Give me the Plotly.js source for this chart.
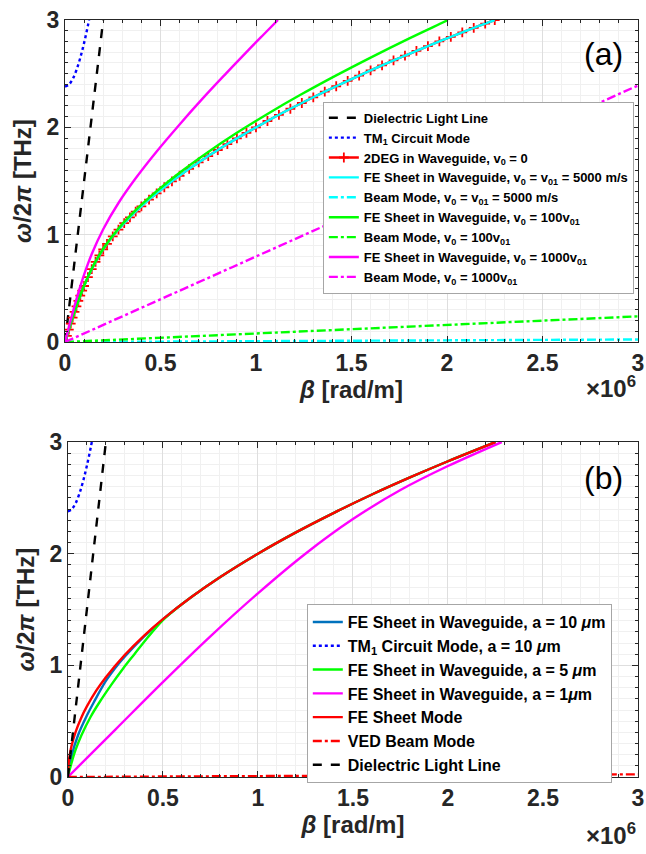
<!DOCTYPE html>
<html>
<head>
<meta charset="utf-8">
<script src="https://cdn.plot.ly/plotly-3.0.1.min.js"></script>
<style>html,body{margin:0;padding:0;background:#fff;}#chart{width:646px;height:854px;}</style>
</head>
<body>
<div id="chart"></div>
<script>
// beta in units of 1e6 rad/m, frequency in THz
const lightBeta = [0, 0.2];
const lightFreq = [0, 3.0];

const tm1Beta = [0, 0.02, 0.04, 0.06, 0.08, 0.10, 0.12, 0.126];
const tm1Freq = [2.38, 2.398, 2.449, 2.534, 2.648, 2.787, 2.948, 3.0];

// (a) 2DEG in waveguide, v0 = 0 (and FE sheet, v0 = v01)
const degBeta = [0, 0.01, 0.02, 0.03, 0.04, 0.05, 0.06, 0.07, 0.08, 0.09, 0.10, 0.12, 0.14, 0.16, 0.18, 0.20, 0.22, 0.25, 0.28, 0.31, 0.34, 0.37, 0.40, 0.44, 0.48, 0.52, 0.56, 0.60, 0.65, 0.70, 0.75, 0.80, 0.85, 0.90, 0.95, 1.00, 1.06, 1.12, 1.18, 1.24, 1.30, 1.36, 1.42, 1.48, 1.54, 1.60, 1.66, 1.72, 1.78, 1.84, 1.90, 1.96, 2.02, 2.08, 2.14, 2.20, 2.25];
const degFreq = [0, 0.058, 0.115, 0.171, 0.227, 0.281, 0.333, 0.383, 0.432, 0.478, 0.522, 0.605, 0.679, 0.746, 0.807, 0.863, 0.914, 0.985, 1.048, 1.107, 1.162, 1.214, 1.263, 1.326, 1.385, 1.442, 1.497, 1.549, 1.613, 1.673, 1.732, 1.789, 1.844, 1.897, 1.949, 2.000, 2.059, 2.117, 2.173, 2.227, 2.280, 2.332, 2.383, 2.433, 2.482, 2.530, 2.577, 2.623, 2.668, 2.713, 2.757, 2.800, 2.843, 2.884, 2.926, 2.967, 3.0];
const feV01Beta = degBeta;
const feV01Freq = degFreq;

const fe100Beta = [0, 0.02, 0.04, 0.06, 0.08, 0.10, 0.14, 0.20, 0.28, 0.37, 0.48, 0.60, 0.75, 0.90, 1.06, 1.24, 1.42, 1.60, 1.80, 2.00, 2.004];
const fe100Freq = [0, 0.115, 0.228, 0.334, 0.434, 0.525, 0.683, 0.869, 1.058, 1.228, 1.405, 1.577, 1.771, 1.949, 2.125, 2.310, 2.484, 2.650, 2.827, 2.996, 3.0];

const fe1000Beta = [0, 0.02, 0.04, 0.06, 0.08, 0.10, 0.14, 0.20, 0.28, 0.37, 0.48, 0.60, 0.72, 0.84, 0.96, 1.04, 1.115];
const fe1000Freq = [0, 0.137, 0.271, 0.399, 0.518, 0.628, 0.820, 1.051, 1.295, 1.525, 1.775, 2.027, 2.267, 2.496, 2.720, 2.865, 3.0];

const beamBeta = [0, 3];
const beamV01Freq = [0, 0.024];
const beam100Freq = [0, 0.239];
const beam1000Freq = [0, 2.39];

// (b)
const sheetBeta = [0, 0.005, 0.01, 0.02, 0.04, 0.07, 0.10, 0.15, 0.20, 0.30, 0.40, 0.50, 0.65, 0.80, 1.00, 1.20, 1.40, 1.60, 1.80, 2.00, 2.25];
const sheetFreq = [0, 0.141, 0.200, 0.283, 0.400, 0.529, 0.632, 0.775, 0.894, 1.095, 1.265, 1.414, 1.612, 1.789, 2.000, 2.191, 2.366, 2.530, 2.683, 2.828, 3.0];

const a10Beta = [0, 0.02, 0.054, 0.10, 0.138, 0.20, 0.246, 0.30, 0.40, 0.50, 0.65, 0.80, 1.00, 1.20, 1.40, 1.60, 1.80, 2.00, 2.25];
const a10Freq = [0, 0.19, 0.376, 0.55, 0.674, 0.86, 0.97, 1.08, 1.258, 1.412, 1.612, 1.789, 2.000, 2.191, 2.366, 2.530, 2.683, 2.828, 3.0];

const a5Beta = [0, 0.02, 0.04, 0.072, 0.12, 0.168, 0.23, 0.29, 0.35, 0.42, 0.50, 0.55, 0.65, 0.80, 1.00, 1.20, 1.40, 1.60, 1.80, 2.00, 2.25];
const a5Freq = [0, 0.13, 0.24, 0.376, 0.54, 0.674, 0.83, 0.97, 1.10, 1.25, 1.405, 1.48, 1.612, 1.789, 2.000, 2.191, 2.366, 2.530, 2.683, 2.828, 3.0];

const a1Beta = [0, 0.25, 0.50, 0.75, 1.00, 1.25, 1.50, 1.75, 2.00, 2.283];
const a1Freq = [0, 0.425, 0.85, 1.26, 1.645, 2.00, 2.31, 2.57, 2.785, 3.0];

const vedBeta = [0, 3];
const vedFreq = [0, 0.024];

const namesA = ['Dielectric Light Line', 'TM<sub>1</sub> Circuit Mode', '2DEG in Waveguide, v<sub>0</sub> = 0',
  'FE Sheet in Waveguide, v<sub>0</sub> = v<sub>01</sub> = 5000 m/s', 'Beam Mode, v<sub>0</sub> = v<sub>01</sub> = 5000 m/s',
  'FE Sheet in Waveguide, v<sub>0</sub> = 100v<sub>01</sub>', 'Beam Mode, v<sub>0</sub> = 100v<sub>01</sub>',
  'FE Sheet in Waveguide, v<sub>0</sub> = 1000v<sub>01</sub>', 'Beam Mode, v<sub>0</sub> = 1000v<sub>01</sub>'];
const namesB = ['FE Sheet in Waveguide, a = 10 <i>μ</i>m', 'TM<sub>1</sub> Circuit Mode, a = 10 <i>μ</i>m',
  'FE Sheet in Waveguide, a = 5 <i>μ</i>m', 'FE Sheet in Waveguide, a = 1<i>μ</i>m', 'FE Sheet Mode',
  'VED Beam Mode', 'Dielectric Light Line'];

const W = 2.4;
function tr(x, y, name, color, dash, xa, ya, leg, extra) {
  const t = {x: x, y: y, name: name, type: 'scatter', mode: 'lines', xaxis: xa, yaxis: ya, legend: leg,
    line: {color: color, width: W, dash: dash, shape: 'spline'}};
  return Object.assign(t, extra || {});
}

const traces = [
  tr(lightBeta, lightFreq, namesA[0], '#000000', 'dash', 'x', 'y', 'legend'),
  tr(tm1Beta, tm1Freq, namesA[1], '#0000ff', 'dot', 'x', 'y', 'legend'),
  tr(degBeta, degFreq, namesA[2], '#ff0000', 'solid', 'x', 'y', 'legend',
     {mode: 'lines+markers', marker: {symbol: 'cross-thin', size: 7, line: {color: '#ff0000', width: 1.8}}}),
  tr(feV01Beta, feV01Freq, namesA[3], '#00ffff', 'solid', 'x', 'y', 'legend'),
  tr(beamBeta, beamV01Freq, namesA[4], '#00ffff', 'dashdot', 'x', 'y', 'legend'),
  tr(fe100Beta, fe100Freq, namesA[5], '#00ff00', 'solid', 'x', 'y', 'legend'),
  tr(beamBeta, beam100Freq, namesA[6], '#00ff00', 'dashdot', 'x', 'y', 'legend'),
  tr(fe1000Beta, fe1000Freq, namesA[7], '#ff00ff', 'solid', 'x', 'y', 'legend'),
  tr(beamBeta, beam1000Freq, namesA[8], '#ff00ff', 'dashdot', 'x', 'y', 'legend'),

  tr(a10Beta, a10Freq, namesB[0], '#0072bd', 'solid', 'x2', 'y2', 'legend2'),
  tr(tm1Beta, tm1Freq, namesB[1], '#0000ff', 'dot', 'x2', 'y2', 'legend2'),
  tr(a5Beta, a5Freq, namesB[2], '#00ff00', 'solid', 'x2', 'y2', 'legend2'),
  tr(a1Beta, a1Freq, namesB[3], '#ff00ff', 'solid', 'x2', 'y2', 'legend2'),
  tr(sheetBeta, sheetFreq, namesB[4], '#ff0000', 'solid', 'x2', 'y2', 'legend2'),
  tr(vedBeta, vedFreq, namesB[5], '#ff0000', 'dashdot', 'x2', 'y2', 'legend2'),
  tr(lightBeta, lightFreq, namesB[6], '#000000', 'dash', 'x2', 'y2', 'legend2')
];

const FONT = 'Liberation Sans, Arial, Helvetica, sans-serif';
const tickFont = {family: FONT, size: 23, weight: 'bold', color: '#262626'};
function xAxis(domain, anchor, standoff) {
  return {domain: domain, anchor: anchor, range: [0, 3], dtick: 0.5, tick0: 0, ticks: 'inside', ticklen: 6,
    tickcolor: '#262626', showline: true, linecolor: '#262626', linewidth: 1, mirror: 'allticks',
    showgrid: true, gridcolor: '#dedede', gridwidth: 1, zeroline: false, tickfont: tickFont,
    minor: {dtick: 0.1, showgrid: true, gridcolor: '#f0f0f0', ticks: 'inside', ticklen: 3, tickcolor: '#262626'},
    title: {text: '<i>β</i> [rad/m]', font: {family: FONT, size: 24, weight: 'bold', color: '#262626'}, standoff: standoff}};
}
function yAxis(domain, anchor) {
  return {domain: domain, anchor: anchor, range: [0, 3], dtick: 1, tick0: 0, ticks: 'inside', ticklen: 6,
    tickcolor: '#262626', showline: true, linecolor: '#262626', linewidth: 1, mirror: 'allticks',
    showgrid: true, gridcolor: '#dedede', gridwidth: 1, zeroline: false, tickfont: tickFont,
    minor: {dtick: 0.1, showgrid: true, gridcolor: '#f0f0f0', ticks: 'inside', ticklen: 3, tickcolor: '#262626'},
    title: {text: '<i>ω</i>/2<i>π</i> [THz]', font: {family: FONT, size: 24, weight: 'bold', color: '#262626'}, standoff: 8}};
}

const layout = {
  width: 646, height: 854, paper_bgcolor: '#ffffff', plot_bgcolor: '#ffffff',
  margin: {l: 65, r: 8, t: 20, b: 77},
  showlegend: true,
  xaxis: xAxis([0, 1], 'y', 0),
  yaxis: yAxis([0.5746, 1], 'x'),
  xaxis2: xAxis([0.005, 1], 'y2', 4),
  yaxis2: yAxis([0, 0.4425], 'x2'),
  legend: {x: 0.450, y: 0.892, xanchor: 'left', yanchor: 'top', bgcolor: '#ffffff', bordercolor: '#a6a6a6',
    borderwidth: 1, font: {family: FONT, size: 13, weight: 'bold', color: '#000000'}, tracegroupgap: 0},
  legend2: {x: 0.422, y: 0.2285, xanchor: 'left', yanchor: 'top', bgcolor: '#ffffff', bordercolor: '#a6a6a6',
    borderwidth: 1, font: {family: FONT, size: 16, weight: 'bold', color: '#000000'}, tracegroupgap: 0},
  annotations: [
    {xref: 'paper', yref: 'paper', x: 0.94, y: 0.955, text: '(a)', showarrow: false,
      font: {family: FONT, size: 32, color: '#000000'}, xanchor: 'center', yanchor: 'middle'},
    {xref: 'paper', yref: 'paper', x: 0.94, y: 0.395, text: '(b)', showarrow: false,
      font: {family: FONT, size: 32, color: '#000000'}, xanchor: 'center', yanchor: 'middle'},
    {xref: 'paper', yref: 'paper', x: 1.0, y: 0.5155, text: '×10<sup>6</sup>', showarrow: false,
      font: {family: FONT, size: 24, weight: 'bold', color: '#262626'}, xanchor: 'right', yanchor: 'middle'},
    {xref: 'paper', yref: 'paper', x: 1.0, y: -0.075, text: '×10<sup>6</sup>', showarrow: false,
      font: {family: FONT, size: 24, weight: 'bold', color: '#262626'}, xanchor: 'right', yanchor: 'middle'}
  ]
};

Plotly.newPlot('chart', traces, layout, {displayModeBar: false, staticPlot: true});
</script>
</body>
</html>
